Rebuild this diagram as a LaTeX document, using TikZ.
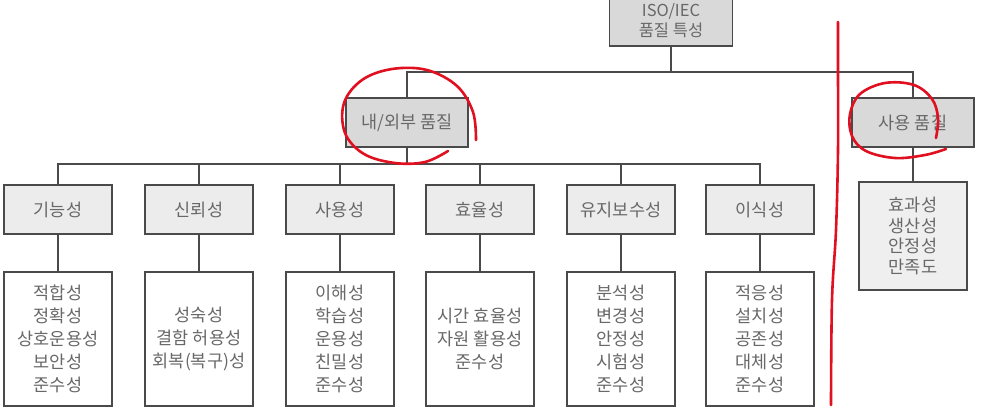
\documentclass[tikz,border=0pt]{standalone}
\usepackage{fontspec}
\setmainfont{Noto Sans CJK KR}
\definecolor{lineg}{HTML}{4A4A4A}
\definecolor{txtg}{HTML}{686868}
\definecolor{fillA}{HTML}{D9D9D9}
\definecolor{fillB}{HTML}{ECECEC}
\definecolor{fillC}{HTML}{EFEFEF}
\definecolor{redmark}{HTML}{E01020}
\tikzset{
  base/.style={draw=lineg, line width=1.1pt, text=txtg, align=center, inner sep=0pt},
  topbox/.style={base, fill=fillA, minimum width=122pt, minimum height=49pt, font=\fontsize{17.5}{20}\selectfont},
  catbox/.style={base, fill=fillB, minimum width=108pt, minimum height=49pt, font=\fontsize{17.5}{20}\selectfont},
  subbox/.style={base, fill=white, minimum width=108pt, minimum height=134pt, font=\fontsize{17.5}{23}\selectfont},
  usebox/.style={base, fill=fillC, minimum width=108pt, minimum height=108pt, font=\fontsize{17.5}{20.6}\selectfont},
  conn/.style={draw=lineg, line width=1.1pt},
  redpen/.style={draw=redmark, line width=2.6pt, line cap=round, line join=round}
}
\begin{document}
\begin{tikzpicture}[x=1pt,y=-1pt]
\useasboundingbox (0,0) rectangle (986,413);
\fill[white] (0,0) rectangle (986,413);

% top
\node[topbox, minimum height=50pt, minimum width=123pt, font=\fontsize{16.5}{20}\selectfont] (top) at (671,21) {ISO/IEC\\품질 특성};
\node[topbox] (inq) at (407,122.5) {내/외부 품질};
\node[topbox] (use) at (913,122.5) {사용 품질};

% categories
\node[catbox] (c1) at (58,209.5) {기능성};
\node[catbox] (c2) at (199,209.5) {신뢰성};
\node[catbox] (c3) at (340,209.5) {사용성};
\node[catbox] (c4) at (480,209.5) {효율성};
\node[catbox] (c5) at (621,209.5) {유지보수성};
\node[catbox] (c6) at (760,209.5) {이식성};

% sub characteristics
\node[subbox] (d1) at (58,339) {적합성\\정확성\\상호운용성\\보안성\\준수성};
\node[subbox] (d2) at (199,339) {성숙성\\결함 허용성\\회복(복구)성};
\node[subbox] (d3) at (340,339) {이해성\\학습성\\운용성\\친밀성\\준수성};
\node[subbox] (d4) at (480,339) {시간 효율성\\자원 활용성\\준수성};
\node[subbox] (d5) at (621,339) {분석성\\변경성\\안정성\\시험성\\준수성};
\node[subbox] (d6) at (760,339) {적응성\\설치성\\공존성\\대체성\\준수성};

\node[usebox] (uc) at (913,236) {효과성\\생산성\\안정성\\만족도};

% connectors
\coordinate (bus1) at (671,72);
\coordinate (bus2) at (407,164);
\draw[conn] (top.south) -- (bus1);
\draw[conn] (inq.north) -- (inq.north |- bus1) -- (use.north |- bus1) -- (use.north);
\draw[conn] (inq.south) -- (bus2);
\draw[conn] (c1.north) -- (c1.north |- bus2) -- (c6.north |- bus2) -- (c6.north);
\foreach \c in {c2,c3,c4,c5} \draw[conn] (\c.north) -- (\c.north |- bus2);
\foreach \i in {1,...,6} \draw[conn] (c\i.south) -- (d\i.north);
\draw[conn] (use.south) -- (uc.north);

% red hand annotations
\draw[redpen] plot[smooth, tension=0.6] coordinates {(476,140) (473,112) (457,86) (427,70) (392,69) (362,80) (344,103) (345,133) (364,154) (395,163) (425,162) (448,151)};
\draw[redpen] plot[smooth, tension=0.6] coordinates {(936,138) (938,118) (932,99) (914,85) (885,83) (860,94) (850,114) (852,136) (866,151) (895,158) (925,155) (946,149)};
\draw[redpen] plot[smooth, tension=0.6] coordinates {(838,22) (838,70) (838,150) (836,230) (832,300) (831,405)};
\end{tikzpicture}
\end{document}
